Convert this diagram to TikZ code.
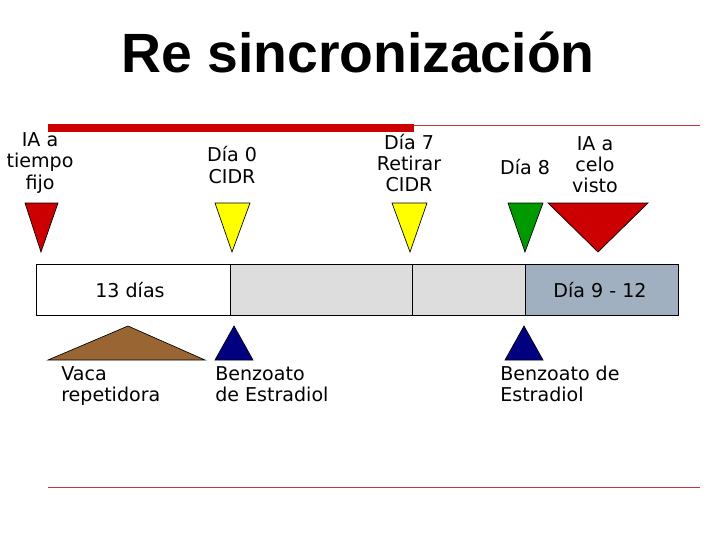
\documentclass[tikz,border=0pt]{standalone}
\usepackage{fontspec}
\setmainfont{DejaVu Sans}
\newfontfamily\titlefont{Liberation Sans}
\usepackage{xcolor}
\definecolor{barred}{HTML}{CC0000}
\definecolor{linered}{HTML}{CC3333}
\definecolor{trired}{HTML}{CC0000}
\definecolor{triyellow}{HTML}{FFFF00}
\definecolor{trigreen}{HTML}{009900}
\definecolor{navy}{HTML}{000080}
\definecolor{cowbrown}{HTML}{996633}
\definecolor{boxgrey}{HTML}{DDDDDD}
\definecolor{boxblue}{HTML}{A0B0C0}
\tikzset{%
    lbl/.style={font=\fontsize{14.3}{15.8}\selectfont, align=center, inner sep=0pt},
    lbll/.style={lbl, align=left, anchor=north west},
    tri/.style={draw=black, line width=0.5pt},
    seg/.style={draw=black, line width=0.6pt}
}
\begin{document}
\begin{tikzpicture}[x=0.75pt,y=-0.75pt]
    \useasboundingbox (0,0) rectangle (720,540);
    \node[font=\titlefont\bfseries\fontsize{41.5}{44}\selectfont] (title) at (358,52) {Re sincronización};

    \fill[barred] (48,124) rectangle (414,132);
    \draw[linered,line width=0.7pt] (414,125) -- (700,125);
    \draw[linered,line width=0.7pt] (48,487) -- (700,487);

    \node[lbl] (iafijo) at (40,163) {IA a\\tiempo\\fijo};
    \node[lbl] (dia0) at (232,165) {Día 0\\CIDR};
    \node[lbl] (dia7) at (409,163) {Día 7\\Retirar\\CIDR};
    \node[lbl] (dia8) at (525,167) {Día 8};
    \node[lbl] (iacelo) at (595,165) {IA a\\celo\\visto};

    \filldraw[tri,fill=trired] (25,203) -- (58,203) -- (41,252) -- cycle;
    \filldraw[tri,fill=triyellow] (215,203) -- (250,203) -- (232,252) -- cycle;
    \filldraw[tri,fill=triyellow] (392,203) -- (427,203) -- (410,252) -- cycle;
    \filldraw[tri,fill=trigreen] (508,203) -- (543,203) -- (525,252) -- cycle;
    \filldraw[tri,fill=trired] (548,203) -- (648,203) -- (598,252) -- cycle;

    \filldraw[seg,fill=white] (36,264) rectangle (230,315);
    \filldraw[seg,fill=boxgrey] (230,264) rectangle (412,315);
    \filldraw[seg,fill=boxgrey] (412,264) rectangle (525,315);
    \filldraw[seg,fill=boxblue] (525,264) rectangle (678,315);
    \node[lbl] (trece) at (130,290) {13 días};
    \node[lbl] (dia912) at (600,290) {Día 9 - 12};

    \filldraw[tri,fill=cowbrown] (48,360) -- (205,360) -- (128,326) -- cycle;
    \filldraw[tri,fill=navy] (215,360) -- (253,360) -- (234,326) -- cycle;
    \filldraw[tri,fill=navy] (505,360) -- (543,360) -- (524,326) -- cycle;

    \node[lbll] (vaca) at (61,366) {Vaca\\repetidora};
    \node[lbll] (benz1) at (215,366) {Benzoato\\de Estradiol};
    \node[lbll] (benz2) at (500,366) {Benzoato de\\Estradiol};
\end{tikzpicture}
\end{document}
